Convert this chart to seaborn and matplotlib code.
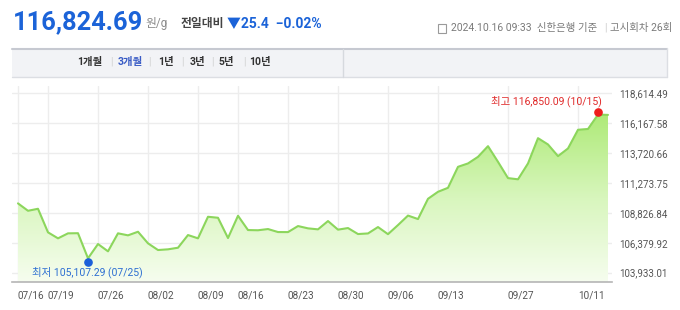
import numpy as np
import pandas as pd
import matplotlib
matplotlib.use("Agg")
import matplotlib.pyplot as plt
import seaborn as sns
from matplotlib.colors import LinearSegmentedColormap
from matplotlib.patches import Rectangle
from matplotlib.lines import Line2D
from matplotlib.transforms import offset_copy

# ---------------- data ----------------
dates = ["07/16", "07/17", "07/18", "07/19", "07/22", "07/23", "07/24", "07/25", "07/26", "07/29", "07/30", "07/31",
         "08/01", "08/02", "08/05", "08/06", "08/07", "08/08", "08/09", "08/12", "08/13", "08/14", "08/16", "08/19",
         "08/20", "08/21", "08/22", "08/23", "08/26", "08/27", "08/28", "08/29", "08/30",
         "09/02", "09/03", "09/04", "09/05", "09/06", "09/09", "09/10", "09/11", "09/12", "09/13", "09/19", "09/20",
         "09/23", "09/24", "09/25", "09/26", "09/27", "09/30",
         "10/02", "10/04", "10/07", "10/08", "10/10", "10/11", "10/14", "10/15", "10/16"]
prices = [109596, 108992, 109155, 107230, 106740, 107148, 107160, 105107.29, 106275, 105679, 107150, 106985,
          107279, 106332, 105785, 105842, 105973, 107009, 106740, 108503, 108421, 106765, 108584, 107417,
          107400, 107499, 107254, 107250, 107744, 107556, 107474, 108152, 107450,
          107581, 107091, 107140, 107662, 107080, 107825, 108601, 108315, 109971, 110543, 110869, 112583,
          112860, 113399, 114272, 112991, 111661, 111563,
          112860, 114925, 114410, 113456, 114084, 115610, 115675, 116850.09, 116824.69]
xtick_labels = ["07/16", "07/19", "07/26", "08/02", "08/09", "08/16", "08/23", "08/30", "09/06", "09/13", "09/27", "10/11"]
ytick_values = [103933.01, 106379.92, 108826.84, 111273.75, 113720.66, 116167.58, 118614.49]
ytick_labels = ["103,933.01", "106,379.92", "108,826.84", "111,273.75", "113,720.66", "116,167.58", "118,614.49"]
tabs = ["1개월", "3개월", "1년", "3년", "5년", "10년"]
current_price = "116,824.69"
unit = "원/g"
change_label = "전일대비"
change_text = "▼25.4  −0.02%"
stamp_text = "2024.10.16 09:33  신한은행 기준"
round_text = "고시회차 26회"
max_label = "최고 116,850.09 (10/15)"
min_label = "최저 105,107.29 (07/25)"

df = pd.DataFrame({"pos": np.arange(len(dates)), "date": dates, "price": prices})

# ---------------- style ----------------
sns.set_style("white")
plt.rcParams["font.family"] = ["Roboto", "Noto Sans CJK KR", "DejaVu Sans"]
plt.rcParams["axes.unicode_minus"] = False

W, H = 680, 310
fig = plt.figure(figsize=(W / 100, H / 100), dpi=100)
fig.patch.set_facecolor("white")


def fx(x):
    return x / W


def fy(y):
    return 1 - y / H


BLUE = "#1b63d8"
GREY = "#7a7a7a"
LINE = "#8cd65c"

# header
fig.text(fx(13), fy(22), current_price, color=BLUE, fontsize=18.3, fontweight="bold", va="center", ha="left")
fig.text(fx(145), fy(24), unit, color="#8a8a8a", fontsize=8.5, va="center", ha="left")
fig.text(fx(181), fy(23), change_label, color="#444444", fontsize=8.5, fontweight="bold", va="center", ha="left")
fig.text(fx(227), fy(23), change_text, color=BLUE, fontsize=10, fontweight="bold", va="center", ha="left")

# date stamp with small calendar icon
icon = Rectangle((fx(438), fy(33)), fx(8), 9 / H, transform=fig.transFigure, fill=False,
                 edgecolor="#9a9a9a", linewidth=0.8)
fig.patches.append(icon)
fig.text(fx(451), fy(28), stamp_text, color=GREY, fontsize=7.5, va="center", ha="left")
fig.text(fx(605), fy(28), "|", color="#cccccc", fontsize=7, va="center", ha="center")
fig.text(fx(610), fy(28), round_text, color=GREY, fontsize=7.5, va="center", ha="left")

# tab bar
bar = Rectangle((fx(12), fy(77)), fx(667 - 12), (77 - 48) / H, transform=fig.transFigure,
                facecolor="#f2f3f6", edgecolor="none", zorder=0)
fig.patches.append(bar)
fig.lines.append(Line2D([fx(12), fx(667)], [fy(48.5), fy(48.5)], transform=fig.transFigure,
                        color="#c6c9d1", linewidth=1.5))
fig.lines.append(Line2D([fx(12), fx(667)], [fy(77), fy(77)], transform=fig.transFigure,
                        color="#dcdee3", linewidth=1))
fig.lines.append(Line2D([fx(667), fx(667)], [fy(48), fy(77)], transform=fig.transFigure,
                        color="#dcdee3", linewidth=1))
fig.lines.append(Line2D([fx(343), fx(343)], [fy(49), fy(77)], transform=fig.transFigure,
                        color="#d6d9de", linewidth=1))
tab_x = [90, 130, 166, 197, 226, 260]
for i, (t, x) in enumerate(zip(tabs, tab_x)):
    fig.text(fx(x), fy(62), t, color="#3a5cc5" if t == "3개월" else "#333333", fontsize=7.5,
             fontweight="bold", va="center", ha="center")
    if i < len(tabs) - 1:
        fig.text(fx((x + tab_x[i + 1]) / 2 + 1), fy(62), "|", color="#d0d0d0", fontsize=7,
                 va="center", ha="center")

# ---------------- chart ----------------
ax = fig.add_axes([fx(12), fy(282), fx(600), (282 - 86) / H])
px_per_val = (272.7 - 93) / (ytick_values[-1] - ytick_values[0])
ymin = ytick_values[0] - 9.3 / px_per_val
ymax = ytick_values[-1] + 7 / px_per_val
xlim = (-0.6, len(dates) - 1 + 0.4)
ax.set_xlim(*xlim)
ax.set_ylim(ymin, ymax)

# gradient area fill clipped to the area under the line
poly = ax.fill_between(df["pos"], df["price"], ymin, facecolor="none", edgecolor="none")
grad = np.linspace(0, 1, 256).reshape(-1, 1)
cmap = LinearSegmentedColormap.from_list("g", ["#f6fdef", "#d8f6bd", "#aeea78"])
im = ax.imshow(grad, extent=[xlim[0], xlim[1], ymin, max(prices)],
               origin="lower", aspect="auto", cmap=cmap, zorder=1)
im.set_clip_path(poly.get_paths()[0], transform=ax.transData)
ax.set_xlim(*xlim)
ax.set_ylim(ymin, ymax)

sns.lineplot(data=df, x="pos", y="price", ax=ax, color=LINE, linewidth=1.5, zorder=3)

# grid
xticks = [dates.index(t) for t in xtick_labels]
ax.set_xticks(xticks)
ax.set_xticklabels(xtick_labels)
ax.set_yticks(ytick_values)
ax.set_yticklabels(ytick_labels)
ax.grid(True, color="#ededed", linewidth=1)
ax.set_axisbelow(True)
ax.set_xlabel("")
ax.set_ylabel("")

ax.yaxis.tick_right()
ax.tick_params(axis="y", length=0, pad=5, labelsize=7, labelcolor="#555555")
ax.tick_params(axis="x", length=3.5, width=0.8, color="#b0b0b0", pad=2.5, labelsize=7.2,
               labelcolor="#555555")
for lbl in ax.get_xticklabels():
    lbl.set_horizontalalignment("left")

for s in ["top", "left", "right"]:
    ax.spines[s].set_visible(False)
ax.spines["bottom"].set_color("#b5b5b5")
ax.spines["bottom"].set_linewidth(1.2)

# extreme points
imax = int(np.argmax(prices))
imin = int(np.argmin(prices))
ax.plot([imax], [prices[imax]], "o", color="#ee1c1c", markersize=5.2, zorder=5,
        transform=offset_copy(ax.transData, fig=fig, y=3, units="dots"))
ax.plot([imin], [prices[imin]], "o", color="#1b5fd9", markersize=5.2, zorder=5,
        transform=offset_copy(ax.transData, fig=fig, y=-3.4, units="dots"))
ax.annotate(max_label, xy=(imax, prices[imax]), xytext=(4, 13.7), textcoords="offset pixels",
            ha="right", va="center", fontsize=7.5, color="#e02a2a")
ax.annotate(min_label, xy=(imin, prices[imin]), xytext=(-56, -13.7), textcoords="offset pixels",
            ha="left", va="center", fontsize=7.5, color="#2d6fd2")

fig.savefig("out.png", dpi=100)
